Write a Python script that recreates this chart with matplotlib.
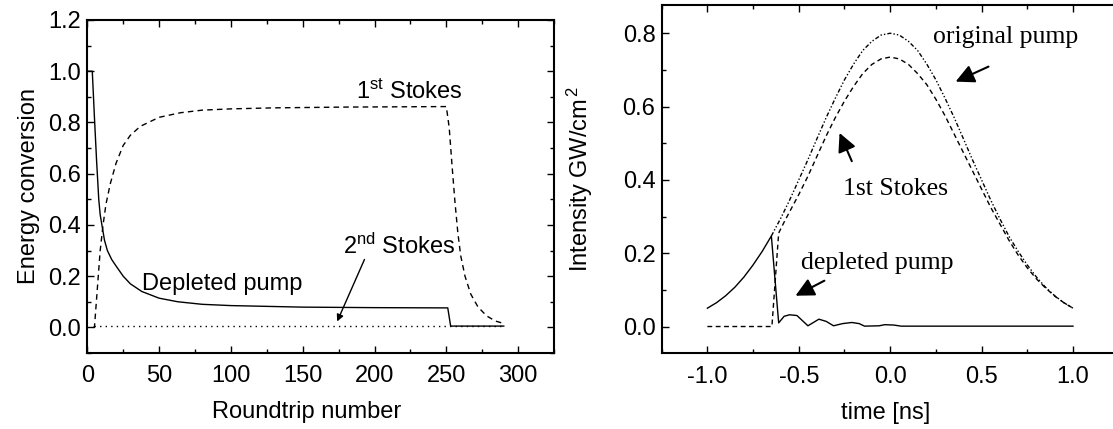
import numpy as np
import matplotlib.pyplot as plt
from matplotlib.ticker import MultipleLocator

plt.rcParams['font.family'] = ['Liberation Sans', 'DejaVu Sans']
plt.rcParams['mathtext.fontset'] = 'custom'
plt.rcParams['mathtext.rm'] = 'Liberation Sans'
plt.rcParams['mathtext.it'] = 'Liberation Sans:italic'
SERIF = ['Liberation Serif', 'DejaVu Serif']

# left panel: energy conversion vs roundtrip number
rt_pump = [0, 3.5, 5, 6.5, 8, 9, 10.5, 12, 14, 17, 20, 25, 30, 38, 50, 63, 80,
           100, 150, 200, 251, 253, 290]
e_pump = [1.0, 1.0, 0.82, 0.65, 0.50, 0.44, 0.39, 0.34, 0.30, 0.265, 0.24, 0.20,
          0.17, 0.14, 0.114, 0.10, 0.09, 0.085, 0.079, 0.077, 0.076, 0.005, 0.005]
rt_s1 = [4, 5, 7, 9, 11, 13, 16, 20, 25, 30, 37, 50, 65, 80, 100, 130, 180, 250,
         252, 254, 256, 258, 260, 263, 267, 272, 278, 284, 290]
e_s1 = [0.0, 0.0, 0.15, 0.30, 0.40, 0.48, 0.56, 0.64, 0.71, 0.75, 0.785, 0.82,
        0.838, 0.848, 0.853, 0.857, 0.86, 0.862, 0.78, 0.63, 0.49, 0.37, 0.28,
        0.20, 0.13, 0.08, 0.045, 0.025, 0.015]
rt_s2 = [5, 290]
e_s2 = [0.004, 0.004]

# right panel: intensity vs time
t_orig = [-0.65, -0.6, -0.55, -0.5, -0.45, -0.4, -0.35, -0.3, -0.25, -0.2, -0.15,
          -0.1, -0.05, 0.0, 0.05, 0.1, 0.15, 0.2, 0.25, 0.3, 0.35, 0.4, 0.45, 0.5,
          0.55, 0.6, 0.65, 0.7, 0.75, 0.8, 0.85, 0.9, 0.95, 1.0]
i_orig = [0.247, 0.294, 0.345, 0.40, 0.455, 0.513, 0.57, 0.623, 0.673, 0.716, 0.753,
          0.778, 0.795, 0.80, 0.795, 0.778, 0.753, 0.716, 0.673, 0.623, 0.57, 0.513,
          0.455, 0.40, 0.345, 0.294, 0.246, 0.205, 0.168, 0.135, 0.107, 0.084,
          0.065, 0.05]
t_s1 = [-1.0, -0.647, -0.61, -0.58, -0.5, -0.45, -0.4, -0.35, -0.3, -0.25, -0.2,
        -0.15, -0.1, -0.05, 0.0, 0.05, 0.1, 0.15, 0.2, 0.25, 0.3, 0.35, 0.4, 0.45,
        0.5, 0.55, 0.6, 0.65, 0.7, 0.75, 0.8, 0.85, 0.9, 0.95, 1.0]
i_s1 = [0.0, 0.0, 0.255, 0.285, 0.36, 0.41, 0.465, 0.52, 0.57, 0.615, 0.655, 0.69,
        0.715, 0.73, 0.735, 0.73, 0.715, 0.69, 0.66, 0.62, 0.575, 0.525, 0.475,
        0.425, 0.375, 0.325, 0.28, 0.235, 0.195, 0.16, 0.13, 0.105, 0.083, 0.065,
        0.05]
t_dep = [-1.0, -0.95, -0.9, -0.85, -0.8, -0.75, -0.7, -0.65, -0.61, -0.58, -0.55,
         -0.51, -0.45, -0.39, -0.35, -0.31, -0.26, -0.21, -0.17, -0.14, -0.06,
         -0.03, 0.02, 0.06, 1.0]
i_dep = [0.05, 0.065, 0.084, 0.107, 0.135, 0.168, 0.205, 0.247, 0.01, 0.028, 0.032,
         0.030, 0.002, 0.02, 0.014, 0.002, 0.008, 0.011, 0.008, 0.001, 0.002,
         0.005, 0.004, 0.001, 0.001]

fig = plt.figure(figsize=(11.13, 4.29), dpi=100)
ax1 = fig.add_axes([0.0784, 0.1772, 0.4194, 0.7762])
ax2 = fig.add_axes([0.5945, 0.1765, 0.4106, 0.8118])

lw = 1.0
ax1.plot(rt_pump, e_pump, '-', color='k', lw=lw)
ax1.plot(rt_s1, e_s1, color='k', lw=lw, ls=(0, (4, 3)))
ax1.plot(rt_s2, e_s2, color='k', lw=lw, ls=(0, (1, 3)))

ax1.text(187, 0.892, r'1$^{\rm st}$ Stokes', fontsize=17)
ax1.text(178, 0.287, r'2$^{\rm nd}$ Stokes', fontsize=17)
ax1.text(38, 0.147, 'Depleted pump', fontsize=17)
ax1.annotate('', xy=(174, 0.023), xytext=(193, 0.265),
             arrowprops=dict(arrowstyle='-|>', color='k', lw=1.0,
                             mutation_scale=10, shrinkA=0, shrinkB=0))

ax1.set_xlim(0, 325)
ax1.set_ylim(-0.1, 1.2)
ax1.xaxis.set_major_locator(MultipleLocator(50))
ax1.xaxis.set_minor_locator(MultipleLocator(25))
ax1.yaxis.set_major_locator(MultipleLocator(0.2))
ax1.yaxis.set_minor_locator(MultipleLocator(0.1))
ax1.set_xlabel('Roundtrip number', fontsize=17, labelpad=10)
ax1.xaxis.label.set_x(0.47)
ax1.set_ylabel('Energy conversion', fontsize=17, labelpad=6)

ax2.plot(t_orig, i_orig, color='k', lw=lw, ls=(0, (3, 1.5, 1, 1.5, 1, 1.5)))
ax2.plot(t_s1, i_s1, color='k', lw=lw, ls=(0, (3.5, 2.5)))
ax2.plot(t_dep, i_dep, '-', color='k', lw=lw)

ax2.text(0.233, 0.773, 'original pump', fontsize=18.5, family=SERIF)
ax2.text(-0.258, 0.36, '1st Stokes', fontsize=18.5, family=SERIF)
ax2.text(-0.489, 0.157, 'depleted pump', fontsize=18.5, family=SERIF)
arrow = dict(arrowstyle='-|>', color='k', lw=1.5, mutation_scale=28,
             shrinkA=0, shrinkB=0)
ax2.annotate('', xy=(0.358, 0.668), xytext=(0.538, 0.709), arrowprops=arrow)
ax2.annotate('', xy=(-0.277, 0.528), xytext=(-0.21, 0.451), arrowprops=arrow)
ax2.annotate('', xy=(-0.518, 0.084), xytext=(-0.36, 0.125), arrowprops=arrow)

ax2.set_xlim(-1.25, 1.25)
ax2.set_ylim(-0.073, 0.877)
ax2.xaxis.set_major_locator(MultipleLocator(0.5))
ax2.xaxis.set_minor_locator(MultipleLocator(0.25))
ax2.yaxis.set_major_locator(MultipleLocator(0.2))
ax2.yaxis.set_minor_locator(MultipleLocator(0.1))
ax2.xaxis.set_major_formatter(plt.FuncFormatter(lambda v, p: f'{v:.1f}'))
ax2.set_xlabel('time [ns]', fontsize=17, labelpad=10)
ax2.xaxis.label.set_x(0.489)
ax2.set_ylabel(r'Intensity GW/cm$^{\,2}$', fontsize=17, labelpad=20)

for ax in (ax1, ax2):
    for s in ax.spines.values():
        s.set_linewidth(1.5)
    ax.tick_params(which='both', direction='in', top=True, right=(ax is ax1),
                   labelsize=17, width=1.0, pad=9)
    ax.tick_params(axis='y', which='both', pad=4.5)
    ax.tick_params(which='major', length=5)
    ax.tick_params(which='minor', length=3)

fig.savefig('out.png', dpi=100)
